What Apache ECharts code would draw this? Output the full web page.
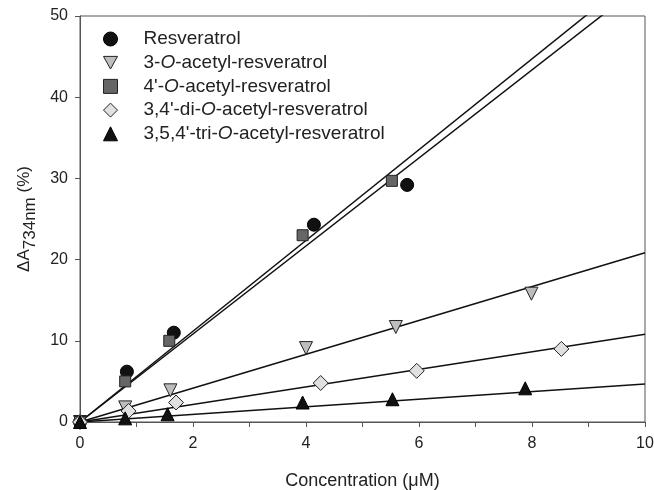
<!DOCTYPE html>
<html>
<head>
    <meta charset="utf-8">
    <title>Resveratrol</title>
    <script src="https://cdn.jsdelivr.net/npm/echarts@6/dist/echarts.min.js"></script>
</head>
<body style="margin:0">
<div id="main" style="width: 654px;height:490px;"></div>
<script>
    // concentration (uM) and dA734nm (%)
    var resvX = [0, 0.83, 1.66, 4.14, 5.79];
    var resvY = [0, 6.2, 11.0, 24.3, 29.2];
    var ac3X = [0, 0.80, 1.60, 4.00, 5.59, 7.99];
    var ac3Y = [0, 1.8, 3.9, 9.1, 11.7, 15.8];
    var ac4X = [0, 0.80, 1.58, 3.94, 5.52];
    var ac4Y = [0, 5.0, 10.0, 23.0, 29.7];
    var diX = [0, 0.86, 1.70, 4.26, 5.96, 8.52];
    var diY = [0, 1.35, 2.4, 4.8, 6.3, 9.0];
    var triX = [0, 0.80, 1.55, 3.94, 5.53, 7.88];
    var triY = [0, 0.45, 0.95, 2.4, 2.8, 4.15];

    // fitted slopes of the lines through the origin
    var slopes = [5.42, 2.085, 5.59, 1.08, 0.468];
    var names = [
        'Resveratrol',
        '3-O-acetyl-resveratrol',
        "4'-O-acetyl-resveratrol",
        "3,4'-di-O-acetyl-resveratrol",
        "3,5,4'-tri-O-acetyl-resveratrol"
    ];
    var xMin = 0, xMax = 10;

    function pairs(xs, ys) {
        return xs.map(function (x, i) { return [x, ys[i]]; });
    }
    var sets = [
        pairs(resvX, resvY), pairs(ac3X, ac3Y), pairs(ac4X, ac4Y),
        pairs(diX, diY), pairs(triX, triY)
    ];

    var markers = [
        {symbol: 'circle', icon: 'circle', size: 13, color: '#111', border: '#000', rotate: 0},
        {symbol: 'triangle', icon: 'path://M0,0L10,0L5,9Z', size: 13, color: '#bdbdbd', border: '#222', rotate: 180},
        {symbol: 'rect', icon: 'rect', size: 11, color: '#666', border: '#222', rotate: 0},
        {symbol: 'diamond', icon: 'diamond', size: 15, color: '#e0e0e0', border: '#222', rotate: 0},
        {symbol: 'triangle', icon: 'triangle', size: 13, color: '#111', border: '#000', rotate: 0}
    ];

    var series = [];
    slopes.forEach(function (k, i) {
        series.push({
            name: 'fit' + i,
            type: 'line',
            data: [[xMin, k * xMin], [xMax, k * xMax]],
            symbol: 'none',
            clip: true,
            silent: true,
            z: 1,
            lineStyle: {color: '#111', width: 1.5}
        });
    });
    sets.forEach(function (d, i) {
        var m = markers[i];
        series.push({
            name: names[i],
            type: 'scatter',
            data: d,
            symbol: m.symbol,
            symbolSize: m.size,
            symbolRotate: m.rotate,
            z: 3,
            itemStyle: {color: m.color, borderColor: m.border, borderWidth: 1, opacity: 1}
        });
    });

    var chart = echarts.init(document.getElementById('main'));
    chart.setOption({
        animation: false,
        backgroundColor: '#fff',
        textStyle: {fontFamily: 'Liberation Sans'},
        grid: {
            left: 80, right: 9, top: 16, bottom: 68,
            outerBoundsMode: 'none', containLabel: false,
            show: true, borderColor: '#555', borderWidth: 1
        },
        legend: {
            data: names.map(function (n, i) {
                return {name: n, icon: markers[i].icon, itemStyle: {color: markers[i].color, borderColor: markers[i].border, borderWidth: 1}};
            }),
            orient: 'vertical',
            left: 98,
            top: 24.5,
            itemWidth: 14,
            itemHeight: 14,
            itemGap: 4.7,
            formatter: function (n) {
                var p = n.split('-O-');
                if (p.length < 2) return '{g| }{a|' + n + '}';
                return '{g| }{a|' + p[0] + '-}{i|O}{a|-' + p[1] + '}';
            },
            textStyle: {
                fontSize: 19,
                color: '#222',
                rich: {
                    g: {width: 21, fontSize: 19},
                    a: {fontSize: 19, color: '#222', fontFamily: 'Liberation Sans'},
                    i: {fontSize: 19, color: '#222', fontStyle: 'italic', fontFamily: 'Liberation Sans'}
                }
            }
        },
        xAxis: {
            type: 'value',
            min: 0,
            max: 10,
            interval: 1,
            name: 'Concentration (\u03bcM)',
            nameLocation: 'middle',
            nameGap: 50,
            nameTextStyle: {fontSize: 18, color: '#222'},
            splitLine: {show: false},
            axisLine: {lineStyle: {color: '#555', width: 1}},
            axisTick: {inside: false, length: 5, lineStyle: {color: '#555'}},
            axisLabel: {
                fontSize: 16, color: '#222', margin: 14,
                formatter: function (v) { return v % 2 === 0 ? v : ''; }
            }
        },
        yAxis: {
            type: 'value',
            min: 0,
            max: 50,
            interval: 10,
            name: '{a|\u0394A}{s|734nm}{a| (%)}',
            nameLocation: 'middle',
            nameGap: 37,
            nameTextStyle: {
                rich: {
                    a: {fontSize: 17, color: '#222', lineHeight: 18, verticalAlign: 'top'},
                    s: {fontSize: 17, color: '#222', lineHeight: 23, verticalAlign: 'bottom'}
                }
            },
            splitLine: {show: false},
            axisLine: {lineStyle: {color: '#555', width: 1}},
            axisTick: {inside: false, length: 5, lineStyle: {color: '#555'}},
            axisLabel: {fontSize: 16, color: '#222', margin: 12}
        },
        series: series
    });
</script>
</body>
</html>
